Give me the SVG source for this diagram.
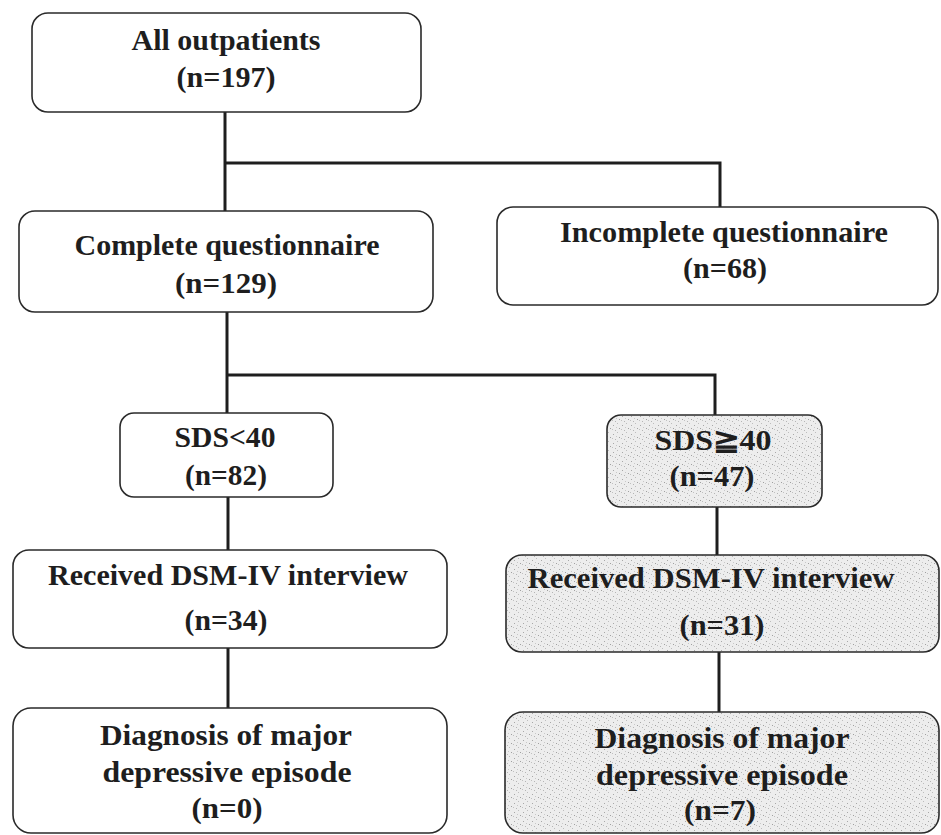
<svg xmlns="http://www.w3.org/2000/svg" width="941" height="835" viewBox="0 0 941 835">
<defs>
<pattern id="stipple" width="9" height="9" patternUnits="userSpaceOnUse">
<rect width="9" height="9" fill="#ededed"/>
<rect x="1" y="2" width="1" height="1" fill="#a8a8a8"/>
<rect x="5" y="0" width="1" height="1" fill="#bdbdbd"/>
<rect x="7" y="5" width="1" height="1" fill="#a0a0a0"/>
<rect x="3" y="7" width="1" height="1" fill="#b5b5b5"/>
<rect x="4" y="4" width="1" height="1" fill="#c8c8c8"/>
<rect x="0" y="6" width="1" height="1" fill="#c0c0c0"/>
</pattern>
</defs>
<style>
.box{fill:#ffffff;stroke:#2a2a2a;stroke-width:1.6}
.gray{fill:url(#stipple);stroke:#2a2a2a;stroke-width:1.6}
.t{font-family:'Liberation Serif','Times New Roman',serif;font-weight:bold;font-size:29px;fill:#1e1e1e;text-anchor:middle}
.c{fill:none;stroke:#1e1e1e;stroke-width:3}
</style>
<rect width="941" height="835" fill="#ffffff"/>
<g id="connectors">
<path class="c" d="M225,112 V211"/>
<path class="c" d="M225,163 H720 V207"/>
<path class="c" d="M227,312 V413"/>
<path class="c" d="M227,375 H715 V415"/>
<path class="c" d="M228,497 V550"/>
<path class="c" d="M717,507 V555"/>
<path class="c" d="M228,648 V708"/>
<path class="c" d="M719,652 V712"/>
</g>
<g id="all">
<rect class="box" x="32" y="13" width="389" height="99" rx="16"/>
<text class="t" x="226" y="50" textLength="189" lengthAdjust="spacingAndGlyphs">All outpatients</text>
<text class="t" x="226" y="87" textLength="99" lengthAdjust="spacingAndGlyphs">(n=197)</text>
</g>
<g id="complete">
<rect class="box" x="19" y="211" width="414" height="101" rx="16"/>
<text class="t" x="227" y="255" textLength="305" lengthAdjust="spacingAndGlyphs">Complete questionnaire</text>
<text class="t" x="226" y="293" textLength="102" lengthAdjust="spacingAndGlyphs">(n=129)</text>
</g>
<g id="incomplete">
<rect class="box" x="497" y="207" width="441" height="98" rx="16"/>
<text class="t" x="724" y="242" textLength="328" lengthAdjust="spacingAndGlyphs">Incomplete questionnaire</text>
<text class="t" x="725" y="278" textLength="84" lengthAdjust="spacingAndGlyphs">(n=68)</text>
</g>
<g id="sdslow">
<rect class="box" x="120" y="413" width="213" height="84" rx="14"/>
<text class="t" x="225" y="447" textLength="101" lengthAdjust="spacingAndGlyphs">SDS&lt;40</text>
<text class="t" x="226" y="485" textLength="82" lengthAdjust="spacingAndGlyphs">(n=82)</text>
</g>
<g id="sdshigh">
<rect class="gray" x="607" y="415" width="215" height="92" rx="14"/>
<text class="t" x="713" y="450" textLength="117" lengthAdjust="spacingAndGlyphs">SDS≧40</text>
<text class="t" x="712" y="486" textLength="85" lengthAdjust="spacingAndGlyphs">(n=47)</text>
</g>
<g id="received-left">
<rect class="box" x="13" y="550" width="434" height="98" rx="16"/>
<text class="t" x="228" y="585" textLength="360" lengthAdjust="spacingAndGlyphs">Received DSM-IV interview</text>
<text class="t" x="226" y="630" textLength="83" lengthAdjust="spacingAndGlyphs">(n=34)</text>
</g>
<g id="received-right">
<rect class="gray" x="506" y="555" width="433" height="97" rx="16"/>
<text class="t" x="711" y="588" textLength="367" lengthAdjust="spacingAndGlyphs">Received DSM-IV interview</text>
<text class="t" x="722" y="635" textLength="85" lengthAdjust="spacingAndGlyphs">(n=31)</text>
</g>
<g id="diag-left">
<rect class="box" x="13" y="708" width="434" height="125" rx="18"/>
<text class="t" x="226" y="745" textLength="252" lengthAdjust="spacingAndGlyphs">Diagnosis of major</text>
<text class="t" x="227" y="782" textLength="249" lengthAdjust="spacingAndGlyphs">depressive episode</text>
<text class="t" x="227" y="818" textLength="71" lengthAdjust="spacingAndGlyphs">(n=0)</text>
</g>
<g id="diag-right">
<rect class="gray" x="505" y="712" width="434" height="121" rx="18"/>
<text class="t" x="722" y="748" textLength="255" lengthAdjust="spacingAndGlyphs">Diagnosis of major</text>
<text class="t" x="722" y="785" textLength="252" lengthAdjust="spacingAndGlyphs">depressive episode</text>
<text class="t" x="720" y="820" textLength="72" lengthAdjust="spacingAndGlyphs">(n=7)</text>
</g>
</svg>
